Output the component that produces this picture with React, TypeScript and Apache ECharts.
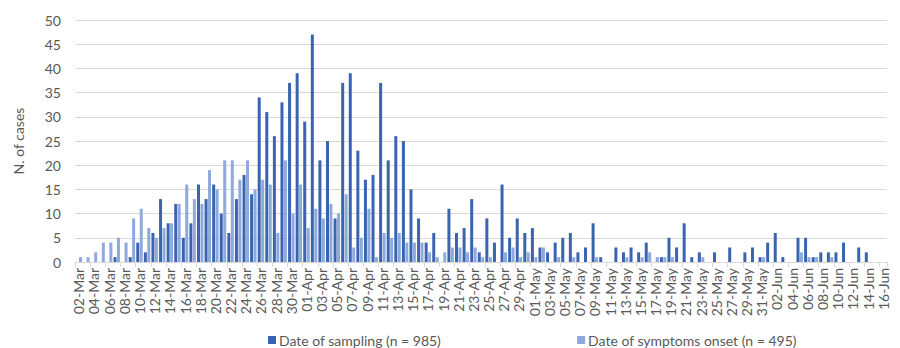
import React, { useEffect, useRef } from "react";
import * as echarts from "echarts";

const monthNames = ["Mar", "Apr", "May", "Jun"];
const monthFirstDay = [2, 1, 1, 1];
const monthLastDay = [31, 30, 31, 16];

const categories: string[] = [];
monthNames.forEach((m, i) => {
  for (let d = monthFirstDay[i]; d <= monthLastDay[i]; d++) {
    categories.push(String(d).padStart(2, "0") + "-" + m);
  }
});

// Date of sampling (n = 985)
const samplingMar = [0, 0, 0, 0, 0, 1, 0, 1, 4, 2, 6, 13, 8, 12, 5, 8, 16, 13, 16, 10, 6, 13, 18, 14, 34, 31, 26, 33, 37, 39];
const samplingApr = [29, 47, 21, 25, 9, 37, 39, 23, 17, 18, 37, 21, 26, 25, 15, 9, 4, 6, 0, 11, 6, 7, 13, 2, 9, 4, 16, 5, 9, 6];
const samplingMay = [7, 3, 2, 4, 5, 6, 2, 3, 8, 1, 0, 3, 2, 3, 2, 4, 0, 1, 5, 3, 8, 1, 2, 0, 2, 0, 3, 0, 2, 3, 1];
const samplingJun = [4, 6, 1, 0, 5, 5, 1, 2, 2, 2, 4, 0, 3, 2, 0, 0];

// Date of symptoms onset (n = 495)
const onsetMar = [1, 1, 2, 4, 4, 5, 4, 9, 11, 7, 5, 7, 8, 12, 16, 13, 12, 19, 15, 21, 21, 17, 21, 15, 17, 16, 6, 21, 10, 16];
const onsetApr = [7, 11, 9, 12, 10, 14, 3, 5, 11, 1, 6, 5, 6, 4, 4, 4, 2, 1, 2, 3, 3, 2, 3, 1, 1, 0, 2, 3, 1, 2];
const onsetMay = [1, 3, 0, 1, 0, 1, 0, 0, 1, 0, 0, 0, 1, 0, 1, 2, 1, 1, 1, 0, 0, 0, 1, 0, 0, 0, 0, 0, 0, 0, 1];
const onsetJun = [0, 0, 0, 0, 2, 1, 1, 0, 1, 0, 0, 0, 0, 0, 0, 0];

const samplingSeries = [...samplingMar, ...samplingApr, ...samplingMay, ...samplingJun];
const onsetSeries = [...onsetMar, ...onsetApr, ...onsetMay, ...onsetJun];

const seriesNames = ["Date of sampling (n = 985)", "Date of symptoms onset (n = 495)"];
const yTicks = { min: 0, max: 50, interval: 5 };

const FONT = "Lato, 'Open Sans', sans-serif";
const TEXT = "#595959";

export default function App() {
  const ref = useRef<HTMLDivElement>(null);
  useEffect(() => {
    document.body.style.margin = "0";
    if (!ref.current) return;
    const chart = echarts.init(ref.current, undefined, { renderer: "svg" });
    chart.setOption({
      animation: false,
      backgroundColor: "#ffffff",
      textStyle: { fontFamily: FONT },
      grid: { left: 75, right: 13, top: 20, bottom: 86, containLabel: false },
      legend: {
        left: 263,
        top: 328,
        itemWidth: 8,
        itemHeight: 8,
        itemGap: 136,
        icon: "rect",
        textStyle: { color: TEXT, fontSize: 14, fontFamily: FONT, padding: [0, 0, 0, -2] },
        data: seriesNames,
      },
      xAxis: {
        type: "category",
        data: categories,
        boundaryGap: true,
        axisLine: { lineStyle: { color: "#d9d9d9", width: 1 } },
        axisTick: { show: true, interval: 1, length: 5, lineStyle: { color: "#d9d9d9" } },
        axisLabel: {
          interval: 1,
          rotate: 90,
          color: TEXT,
          fontSize: 14,
          fontFamily: FONT,
          margin: 6,
        },
      },
      yAxis: {
        type: "value",
        min: yTicks.min,
        max: yTicks.max,
        interval: yTicks.interval,
        name: "N. of cases",
        nameLocation: "middle",
        nameGap: 50,
        nameTextStyle: { color: TEXT, fontSize: 14, fontFamily: FONT },
        axisLine: { show: false },
        axisTick: { show: false },
        axisLabel: { color: TEXT, fontSize: 14, fontFamily: FONT, margin: 14 },
        splitLine: { lineStyle: { color: "#d9d9d9", width: 1 } },
      },
      series: [
        {
          name: seriesNames[0],
          type: "bar",
          data: samplingSeries,
          barWidth: 3,
          barGap: "15%",
          itemStyle: { color: "#3A64B0" },
        },
        {
          name: seriesNames[1],
          type: "bar",
          data: onsetSeries,
          barWidth: 3,
          itemStyle: { color: "#8EA9DB" },
        },
      ],
    });
    return () => chart.dispose();
  }, []);
  return <div ref={ref} style={{ width: 900, height: 348 }} />;
}
